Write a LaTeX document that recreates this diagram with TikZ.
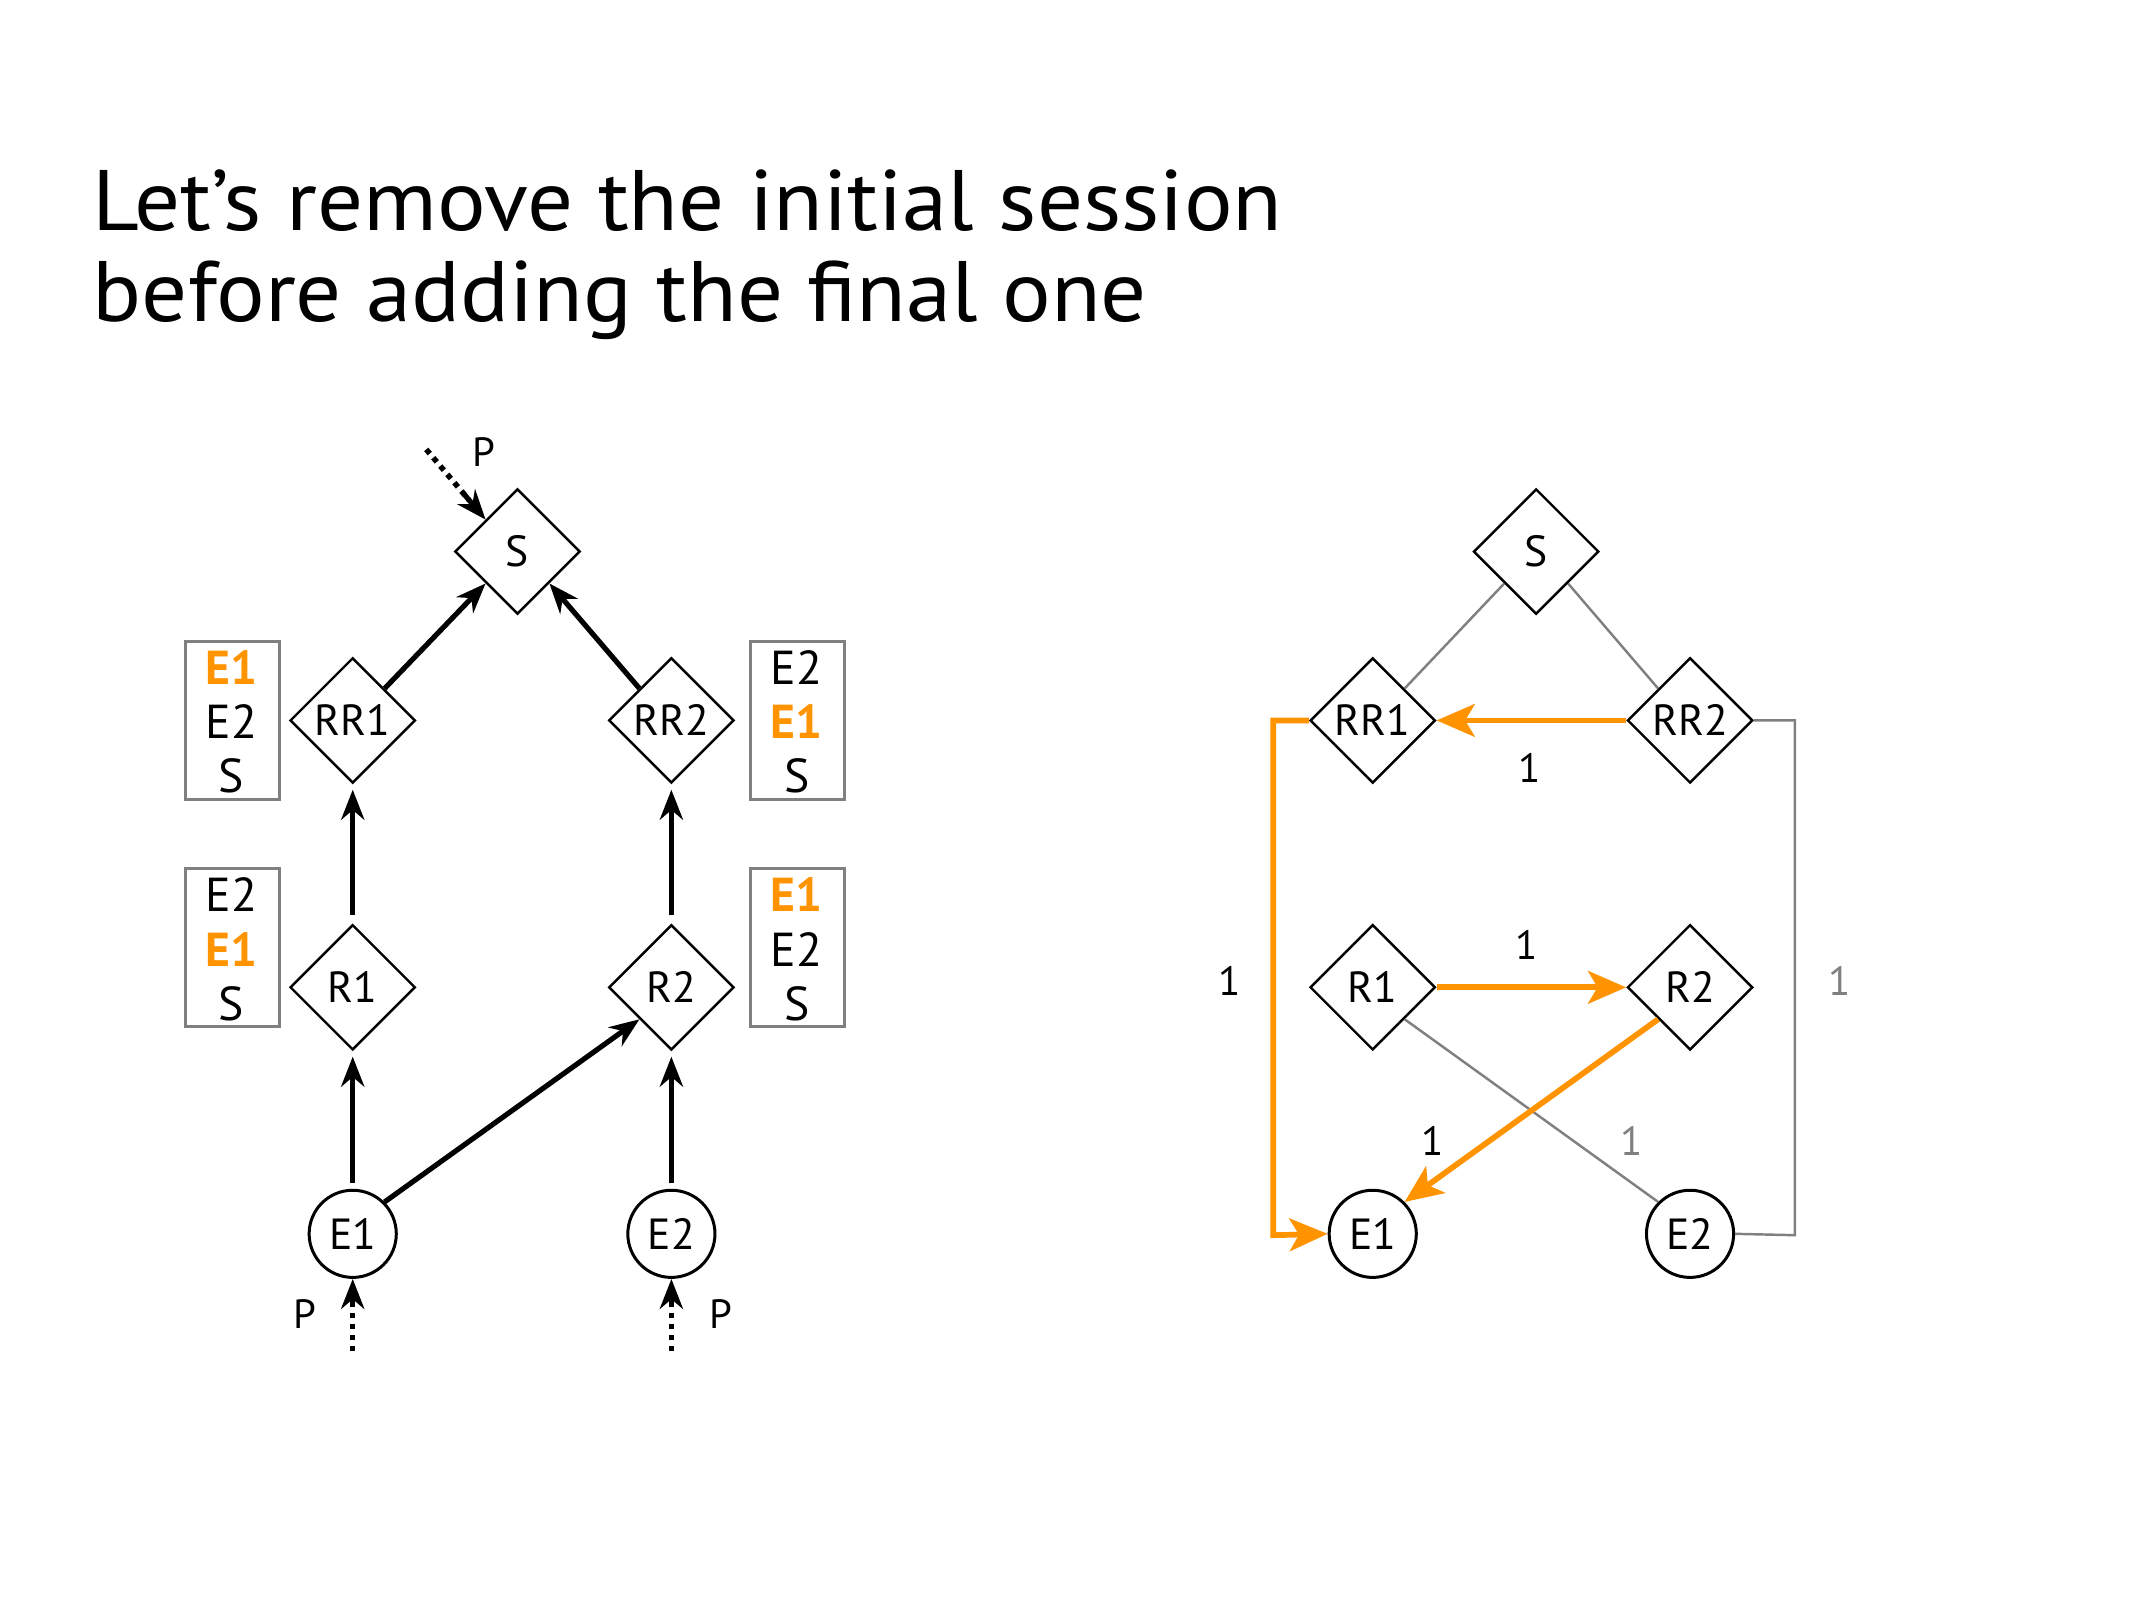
\documentclass[tikz,border=0pt]{standalone}
\usepackage{fontspec}
\setmainfont{PT Sans}
\newfontfamily\titlefont[FakeStretch=1.06]{PT Sans}
\usetikzlibrary{shapes.geometric,arrows.meta,calc}
\definecolor{orng}{RGB}{255,147,0}
\definecolor{gry}{RGB}{128,128,128}
\begin{document}
\begin{tikzpicture}[x=1pt,y=-1pt,
  dia/.style={diamond,draw=black,line width=1.8pt,minimum width=92pt,minimum height=92pt,inner sep=0pt,font=\fontsize{32}{34}\selectfont},
  ent/.style={circle,draw=black,line width=2.2pt,minimum size=64pt,inner sep=0pt,font=\fontsize{32}{34}\selectfont},
  blk/.style={line width=3.8pt,-{Stealth[length=22pt,width=17pt]}},
  dot/.style={line width=4pt,dash pattern=on 4pt off 4pt},
  dotarr/.style={line width=3.8pt,-{Stealth[length=22pt,width=17pt]}},
  gline/.style={draw=gry,line width=1.8pt},
  oarr/.style={draw=orng,line width=4.2pt,-{Stealth[length=28pt,width=24pt,inset=7pt]},color=orng},
  lstbox/.style={draw=gry,line width=2pt,minimum width=69pt,minimum height=116pt,inner sep=0pt},
  lst/.style={font=\fontsize{35}{37}\selectfont,inner sep=0pt},
  olst/.style={font=\fontsize{35}{37}\selectfont\bfseries,text=orng,inner sep=0pt},
  lbl/.style={font=\fontsize{30}{32}\selectfont,inner sep=0pt},
  glbl/.style={font=\fontsize{30}{32}\selectfont,text=gry,inner sep=0pt}
]
\useasboundingbox (0,0) rectangle (1567,1175);
\fill[white] (0,0) rectangle (1567,1175);

% title
\node[anchor=base west,inner sep=0pt,font=\titlefont\fontsize{63}{67}\selectfont] (t1) at (68,169) {Let’s remove the initial session};
\node[anchor=base west,inner sep=0pt,font=\titlefont\fontsize{63}{67}\selectfont] (t2) at (68,236) {before adding the final one};

% ---------- left graph ----------
\node[dia] (S) at (380,405) {S};
\node[dia] (RR1) at (259,529) {RR1};
\node[dia] (RR2) at (493,529) {RR2};
\node[dia] (R1) at (259,725) {R1};
\node[dia] (R2) at (493,725) {R2};
\node[ent] (E1) at (259,906) {E1};
\node[ent] (E2) at (493,906) {E2};

\draw[blk] (RR1.north east) -- (S.south west);
\draw[blk] (RR2.north west) -- (S.south east);
\draw[blk,shorten <=6pt,shorten >=4pt] (R1.north) -- (RR1.south);
\draw[blk,shorten <=6pt,shorten >=4pt] (R2.north) -- (RR2.south);
\draw[blk,shorten <=4pt,shorten >=4pt] (E1.north) -- (R1.south);
\draw[blk,shorten <=4pt,shorten >=4pt] (E2.north) -- (R2.south);
\draw[blk] (E1.north east) -- (R2.south west);

% dotted P arrows
\coordinate (pt) at (313,330);
\coordinate (pb1) at (259,992);
\coordinate (pb2) at (493,992);
\draw[dot] (pt) -- ($(pt)!0.72!(S.north west)$);
\draw[dotarr] ($(pt)!0.6!(S.north west)$) -- (S.north west);
\node[lbl] (P0) at (355,332) {P};
\draw[dot] (pb1) -- (259,955);
\draw[dotarr] (259,960) -- (E1.south);
\node[lbl] (P1) at (224,965) {P};
\draw[dot] (pb2) -- (493,955);
\draw[dotarr] (493,960) -- (E2.south);
\node[lbl] (P2) at (529,965) {P};

% lists
\node[lstbox] (b1) at (170.5,529) {};
\node[olst] at (170,490) {E1};
\node[lst] at (170,530) {E2};
\node[lst] at (170,570) {S};
\node[lstbox] (b2) at (170.5,696) {};
\node[lst] at (170,657) {E2};
\node[olst] at (170,697) {E1};
\node[lst] at (170,737) {S};
\node[lstbox] (b3) at (585.5,529) {};
\node[lst] at (585,490) {E2};
\node[olst] at (585,530) {E1};
\node[lst] at (585,570) {S};
\node[lstbox] (b4) at (585.5,696) {};
\node[olst] at (585,657) {E1};
\node[lst] at (585,697) {E2};
\node[lst] at (585,737) {S};

% ---------- right graph ----------
\node[dia] (rS) at (1128,405) {S};
\node[dia] (rRR1) at (1008,529) {RR1};
\node[dia] (rRR2) at (1241,529) {RR2};
\node[dia] (rR1) at (1008,725) {R1};
\node[dia] (rR2) at (1241,725) {R2};
\node[ent] (rE1) at (1008,906) {E1};
\node[ent] (rE2) at (1241,906) {E2};

\draw[gline] (rS.south west) -- (rRR1.north east);
\draw[gline] (rS.south east) -- (rRR2.north west);
\draw[gline] (rR1.south east) -- (rE2.north west);
\draw[gline] (rRR2.east) -- (1318,529) -- (1318,907) -- (rE2.east);
\node[glbl] at (1351,720) {1};
\node[glbl] at (1198,838) {1};

\draw[oarr] (rRR2.west) -- (rRR1.east);
\node[lbl] at (1123,564) {1};
\draw[oarr] (rRR1.west) -- (935,529) -- (935,907) -- (rE1.west);
\node[lbl] at (903,720) {1};
\draw[oarr] (rR1.east) -- (rR2.west);
\node[lbl] at (1121,694) {1};
\draw[oarr] (rR2.south west) -- (rE1.north east);
\node[lbl] at (1052,838) {1};
\end{tikzpicture}
\end{document}
